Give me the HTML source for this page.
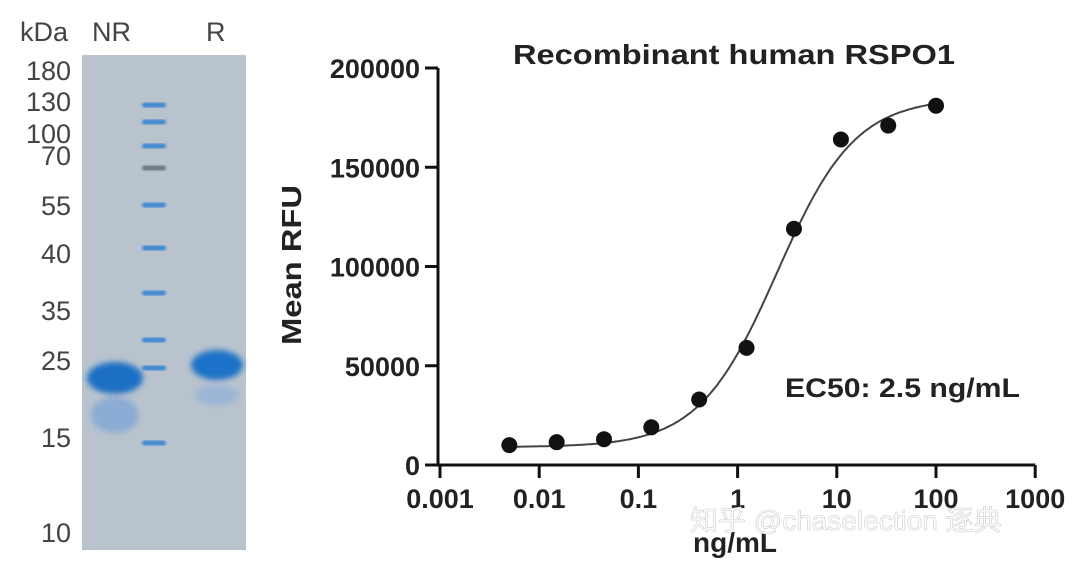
<!DOCTYPE html>
<html><head><meta charset="utf-8"><style>
body{margin:0;width:1080px;height:565px;background:#fff;overflow:hidden;font-family:"Liberation Sans",Arial,sans-serif}
svg{display:block}
</style></head><body>
<svg width="1080" height="565">
<defs>
<filter id="blur3"><feGaussianBlur stdDeviation="3"/></filter>
<filter id="blur1"><feGaussianBlur stdDeviation="1.2"/></filter>
</defs>
<g>
<rect x="82" y="55" width="164" height="495" fill="#b9c3ce"/>
<text x="20" y="41" font-size="27" fill="#444">kDa</text>
<text x="92" y="41" font-size="27" fill="#444">NR</text>
<text x="206" y="41" font-size="27" fill="#444">R</text>
<g id="mw" font-size="27" fill="#444" text-anchor="end"></g>
<g id="ladder"></g>
<g filter="url(#blur3)">
<ellipse cx="115" cy="378" rx="28" ry="16" fill="#1f6fc4"/>
<ellipse cx="115" cy="415" rx="24" ry="18" fill="#7fa6d6" opacity="0.8"/>
</g>
<g filter="url(#blur3)">
<ellipse cx="217" cy="365" rx="26" ry="15" fill="#1f72c8"/>
<ellipse cx="217" cy="395" rx="22" ry="10" fill="#8db0da" opacity="0.7"/>
</g>
</g>
<g id="chart">
<text x="513" y="64" font-size="28" font-weight="bold" textLength="442" lengthAdjust="spacingAndGlyphs" fill="#222">Recombinant human RSPO1</text>
<text transform="translate(301,265) rotate(-90)" font-size="28" font-weight="bold" text-anchor="middle" textLength="160" lengthAdjust="spacingAndGlyphs" fill="#222">Mean RFU</text>
<text x="735" y="552" font-size="28" font-weight="bold" text-anchor="middle" fill="#222">ng/mL</text>
<text x="785" y="397" font-size="27" font-weight="bold" textLength="235" lengthAdjust="spacingAndGlyphs" fill="#222">EC50: 2.5 ng/mL</text>
<g id="axes" stroke="#111" stroke-width="3"></g>
<g id="ticklabels" font-size="27" font-weight="bold" fill="#222"></g>
<path id="curve" fill="none" stroke="#444" stroke-width="2"/>
<g id="points" fill="#111"></g>
</g>
<text x="690" y="530" font-size="28" fill="#fff" stroke="#ccc" stroke-width="0.6" font-family="Liberation Sans,'Noto Sans CJK SC',sans-serif">知乎 @chaselection 逐典</text>
</svg>
<script>
const concentrations=[0.005,0.015,0.045,0.135,0.41,1.23,3.7,11,33,100];
const meanRFU=[10000,11500,13000,19000,33000,59000,119000,164000,171000,181000];
const yTicks=[0,50000,100000,150000,200000];
const xTicks=[0.001,0.01,0.1,1,10,100,1000];
const xTickLabels=["0.001","0.01","0.1","1","10","100","1000"];
const fitBottom=9000, fitTop=185000, fitEC50=2.5, fitHill=1.1;
const mwLabels=["180","130","100","70","55","40","35","25","15","10"];
const mwY=[80,111,143,165,215,263,320,370,447,542];
const ladderBands=[105,122,146,168,205,248,293,340,368,443];

const NS="http://www.w3.org/2000/svg";
function mk(t,a,p){const e=document.createElementNS(NS,t);for(const k in a)e.setAttribute(k,a[k]);p.appendChild(e);return e;}
const X=v=>440+99.2*(Math.log10(v)+3);
const Y=v=>465-v*(397/200000);

const mw=document.getElementById('mw');
mwLabels.forEach((l,i)=>{const t=mk('text',{x:71,y:mwY[i]},mw);t.textContent=l;

});
const lad=document.getElementById('ladder');
ladderBands.forEach((y,i)=>{const r=mk('rect',{x:142,y:y-2.5,width:24,height:5,rx:2.5,fill:i==3?'#6a7480':'#3d86d0',filter:'url(#blur1)'},lad);

});

const ax=document.getElementById('axes');
const ya=mk('line',{x1:438,y1:Y(200000),x2:438,y2:465},ax);


const xa=mk('line',{x1:425,y1:465,x2:X(1000),y2:465},ax);


const tl=document.getElementById('ticklabels');
yTicks.forEach(v=>{const l=mk('line',{x1:425,y1:Y(v),x2:438,y2:Y(v)},ax);


const t=mk('text',{x:420,y:Y(v)+10,'text-anchor':'end'},tl);t.textContent=v;

});
xTicks.forEach((v,i)=>{const l=mk('line',{x1:X(v),y1:465,x2:X(v),y2:478},ax);


const t=mk('text',{x:X(v),y:508,'text-anchor':'middle'},tl);t.textContent=xTickLabels[i];

});

let d='';
for(let lx=Math.log10(concentrations[0]);lx<=Math.log10(concentrations[concentrations.length-1])+0.001;lx+=0.02){
const c=Math.pow(10,lx);const v=fitBottom+(fitTop-fitBottom)/(1+Math.pow(fitEC50/c,fitHill));
d+=(d?'L':'M')+X(c).toFixed(1)+','+Y(v).toFixed(1);}
document.getElementById('curve').setAttribute('d',d);
const pts=document.getElementById('points');
concentrations.forEach((c,i)=>{const p=mk('circle',{cx:X(c),cy:Y(meanRFU[i]),r:8},pts);

});
</script>
</body></html>
